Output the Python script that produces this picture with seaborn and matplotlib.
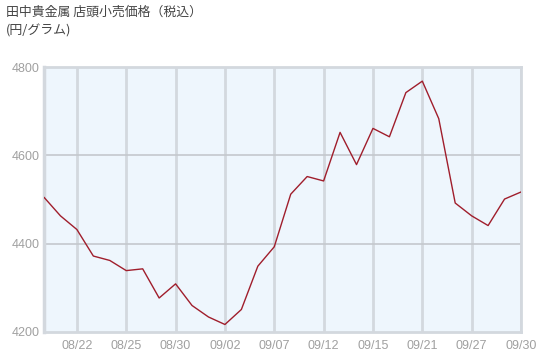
import matplotlib
matplotlib.use("Agg")
import matplotlib.pyplot as plt
import seaborn as sns
import pandas as pd

dates = ["08/18", "08/19", "08/22", "08/23", "08/24", "08/25", "08/26", "08/29", "08/30", "08/31",
         "09/01", "09/02", "09/05", "09/06", "09/07", "09/08", "09/09", "09/12", "09/13", "09/14",
         "09/15", "09/16", "09/20", "09/21", "09/22", "09/26", "09/27", "09/28", "09/29", "09/30"]
prices = [4505, 4463, 4432, 4372, 4362, 4339, 4343, 4277, 4309, 4260,
          4234, 4217, 4251, 4349, 4393, 4512, 4552, 4542, 4652, 4579,
          4661, 4642, 4742, 4768, 4683, 4492, 4463, 4441, 4501, 4517]
tick_labels = ["08/22", "08/25", "08/30", "09/02", "09/07", "09/12", "09/15", "09/21", "09/27", "09/30"]
y_ticks = [4200, 4400, 4600, 4800]
title = "田中貴金属 店頭小売価格（税込）"
unit = "(円/グラム)"

sns.set_theme(style="white")
plt.rcParams['font.family'] = ['Noto Sans CJK JP', 'DejaVu Sans']

df = pd.DataFrame({"idx": range(len(dates)), "date": dates, "price": prices})

fig = plt.figure(figsize=(5.53, 3.62), dpi=100)
ax = fig.add_axes([44/553, 30/362, 477/553, 265/362])
ax.set_facecolor("#EEF6FD")

tick_pos = [dates.index(t) for t in tick_labels]
for p in tick_pos:
    ax.axvline(p, color="#D3D8DE", lw=2, zorder=1)
for yv in y_ticks[1:-1]:
    ax.axhline(yv, color="#C4C8CD", lw=1.2, zorder=1)

sns.lineplot(data=df, x="idx", y="price", ax=ax, color="#A01E2C", lw=1.0, zorder=3)

ax.set_xlim(0, len(dates) - 1)
ax.set_ylim(4200, 4800)
ax.set_xticks(tick_pos)
ax.set_xticklabels(tick_labels)
ax.set_yticks(y_ticks)
ax.set_yticklabels([str(v) for v in y_ticks])
ax.tick_params(axis="both", colors="#A0A0A0", labelsize=9, length=0)
ax.tick_params(axis="x", pad=6)
ax.tick_params(axis="y", pad=3)
for lbl in ax.get_xticklabels() + ax.get_yticklabels():
    lbl.set_fontfamily(["Liberation Sans", "DejaVu Sans"])
ax.set_xlabel("")
ax.set_ylabel("")
for s in ax.spines.values():
    s.set_color("#D3D8DE")
    s.set_linewidth(2)
ax.spines["left"].set_linewidth(2.5)

fig.text(6/553, 1 - 12/362, title, fontsize=9.3, color="#444444", va="center", ha="left")
fig.text(6/553, 1 - 31/362, unit, fontsize=9.3, color="#444444", va="center", ha="left")

fig.savefig("out.png", dpi=100)
